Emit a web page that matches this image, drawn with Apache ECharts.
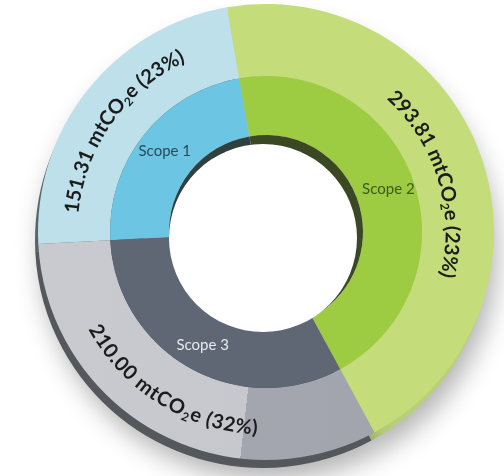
<!DOCTYPE html>
<html><head><meta charset="utf-8">
<script src="https://cdn.jsdelivr.net/npm/echarts@6/dist/echarts.min.js"></script>
<style>html,body{margin:0;padding:0;background:#fff}#c{width:504px;height:476px}</style>
</head><body><div id="c"></div>
<script>
// ---- data ----
const categories = ['Scope 1', 'Scope 2', 'Scope 3'];
const emissions = [151.31, 293.81, 210.00];
const valueTexts = ['151.31', '293.81', '210.00'];
const shareTexts = ['23%', '23%', '32%'];
const unitMain = 'mtCO';
const unitSub = '2';
const unitTail = 'e';

// ---- style / layout ----
const CX = 266, CY = 232, R_IN = 97, R_MID = 156, R_OUT = 228;
const START = 183;
const FONT = 'Lato';
const grayGrad = (function () {
  const nx = Math.cos(6.5 * Math.PI / 180), ny = Math.sin(6.5 * Math.PI / 180);
  return {
    type: 'linear', global: true,
    x: CX - nx * 300, y: CY - ny * 300, x2: CX + nx * 300, y2: CY + ny * 300,
    colorStops: [
      { offset: 0, color: '#c9cbcf' }, { offset: 0.5, color: '#c6c8cd' },
      { offset: 0.5, color: '#a3a6ae' }, { offset: 1, color: '#a0a3ab' }
    ]
  };
})();
const outerColors = ['#bde0ea', '#c4dd7a', grayGrad];
const innerColors = ['#6bc5e3', '#9dcb41', '#5f6674'];
const innerLabelColors = ['#2c4a58', '#3c5a1b', '#e6e9ef'];
const rimColors = ['#56666c', '#b8d07a', '#54575c'];
const wallColors = ['#2f4040', '#3a4823', '#383d45'];
const textRadius = [195, 186, 196];
const textShiftDeg = [-3.4, 2.3, 2.6]; // screen-angle nudge of each curved label

const chart = echarts.init(document.getElementById('c'), null, { renderer: 'canvas' });

function mk(colors) {
  return categories.map((c, i) => ({ name: c, value: emissions[i], itemStyle: { color: colors[i] } }));
}

const base = { type: 'pie', startAngle: START, clockwise: true, animation: false, avoidLabelOverlap: false, labelLine: { show: false } };

chart.setOption({
  backgroundColor: '#ffffff',
  series: [
    Object.assign({}, base, {
      name: 'rim', silent: true, center: [CX - 3, CY + 8], radius: [120, R_OUT],
      data: mk(rimColors), label: { show: false },
      itemStyle: { shadowBlur: 26, shadowColor: 'rgba(0,0,0,0.30)', shadowOffsetY: 12, shadowOffsetX: 6 }
    }),
    Object.assign({}, base, {
      name: 'outer', silent: true, center: [CX, CY], radius: [R_MID, R_OUT],
      data: mk(outerColors), label: { show: false }
    }),
    Object.assign({}, base, {
      name: 'inner', silent: true, center: [CX, CY], radius: [R_IN, R_MID],
      data: categories.map((c, i) => ({
        name: c, value: emissions[i], itemStyle: { color: innerColors[i] },
        label: { color: innerLabelColors[i] }
      })),
      label: { show: true, position: 'inside', formatter: '{b}', fontFamily: FONT, fontSize: 15, fontWeight: 'normal' }
    }),
    Object.assign({}, base, {
      name: 'wall', silent: true, center: [CX, CY], radius: [0, R_IN],
      data: mk(wallColors), label: { show: false }
    }),
    {
      type: 'pie', name: 'hole', silent: true, animation: false, center: [CX - 3, CY + 6], radius: [0, 94],
      data: [{ value: 1, itemStyle: { color: '#ffffff' } }], label: { show: false }, labelLine: { show: false }
    }
  ]
});

// ---- curved outer labels, positioned from the library's own slice layout ----
const ctx = document.createElement('canvas').getContext('2d');
function measure(t, size) { ctx.font = 'bold ' + size + 'px ' + FONT; return ctx.measureText(t).width; }
const outerData = chart.getModel().getSeriesByIndex(1).getData();
const elements = [];
const SP = 0.4;
categories.forEach((c, i) => {
  const lay = outerData.getItemLayout(i);
  const mid = (lay.startAngle + lay.endAngle) / 2 + textShiftDeg[i] * Math.PI / 180; // screen radians
  const R = textRadius[i];
  const parts = [
    { t: valueTexts[i] + ' ' + unitMain, size: 20, sub: false },
    { t: unitSub, size: 12, sub: true },
    { t: unitTail + ' (' + shareTexts[i] + ')', size: 20, sub: false }
  ];
  const chars = [];
  parts.forEach(p => { for (const ch of p.t) chars.push({ ch, size: p.size, sub: p.sub, w: measure(ch, p.size) + SP }); });
  const W = chars.reduce((s, c) => s + c.w, 0);
  const bottom = Math.sin(mid) > 0.3;
  let off = 0;
  chars.forEach(cc => {
    const d = (off + cc.w / 2) / R;
    off += cc.w;
    let a, rot, rr;
    if (!bottom) {
      a = mid - W / 2 / R + d;
      rot = -(a + Math.PI / 2);
      rr = cc.sub ? R - 6 : R;
    } else {
      a = mid + W / 2 / R - d;
      rot = Math.PI / 2 - a;
      rr = cc.sub ? R + 6 : R;
    }
    elements.push({
      type: 'text', silent: true, z: 100,
      x: lay.cx + rr * Math.cos(a), y: lay.cy + rr * Math.sin(a), rotation: rot,
      style: {
        text: cc.ch, fill: '#1b1b1b', font: 'bold ' + cc.size + 'px ' + FONT,
        fontSize: cc.size, fontWeight: 'bold', fontFamily: FONT,
        align: 'center', verticalAlign: 'middle', textAlign: 'center', textVerticalAlign: 'middle'
      }
    });
  });
});
chart.setOption({ graphic: { elements } });
</script>
</body></html>
